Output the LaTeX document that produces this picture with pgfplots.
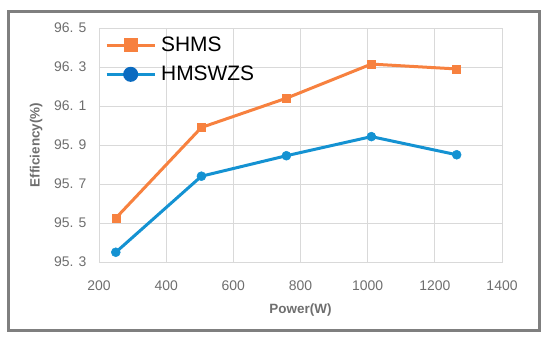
\documentclass[border=0pt]{standalone}
\usepackage{pgfplots}
\pgfplotsset{compat=1.18}
\usepackage{fontspec}
\setmainfont{Liberation Sans}
\definecolor{cOrange}{HTML}{F7813F}
\definecolor{cBlue}{HTML}{1492D2}
\definecolor{cBlueDark}{HTML}{0B6BC0}
\definecolor{cGrid}{HTML}{D9D9D9}
\definecolor{cTick}{HTML}{6E6E6E}
\definecolor{cFrame}{HTML}{7F7F7F}
\begin{document}
\begin{tikzpicture}[x=1bp,y=1bp]
\path[use as bounding box] (-99,-85) rectangle (451,28+234);
\draw[cFrame, line width=3bp] (-90,-68) rectangle (440,234+17);
\begin{axis}[
  at={(0,0)}, anchor=south west,
  scale only axis, width=403bp, height=234bp,
  xmin=200, xmax=1400, ymin=95.3, ymax=96.5,
  xtick={200,400,...,1400},
  xticklabels={200,400,600,800,1000,1200,1400},
  ytick={95.3,95.5,95.7,95.9,96.1,96.3,96.5},
  yticklabels={95. 3,95. 5,95. 7,95. 9,96. 1,96. 3,96. 5},
  grid=major, grid style={cGrid, line width=0.8bp},
  axis line style={cGrid, line width=0.8bp},
  major tick length=0pt,
  tick label style={font=\fontsize{14}{16}\selectfont, text=cTick},
  xticklabel style={yshift=-15bp},
  yticklabel style={xshift=-9bp},
  xlabel={\textbf{Power(W)}},
  ylabel={\textbf{Efficiency(\%)}},
  label style={font=\fontsize{13.5}{15}\selectfont, text=cTick},
  xlabel style={yshift=-7bp},
  ylabel style={yshift=5bp},
  legend style={at={(0,1)}, anchor=north west, draw=none, fill=none,
    font=\fontsize{21}{24}\selectfont, row sep=9bp,
    xshift=3bp, yshift=-5bp},
  legend cell align=left,
  legend image code/.code={\draw[mark repeat=2,mark phase=2,mark options={scale=1.35}] plot coordinates {(0bp,0bp) (24bp,0bp) (48bp,0bp)};},
  legend style={nodes={inner xsep=5bp}},
]
\addplot[cOrange, line width=3bp, mark=square*, mark size=4bp, mark options={solid, line width=0.5bp}]
  coordinates {(250,95.525) (505,95.99) (758,96.14) (1011,96.315) (1265,96.29)};
\addlegendentry{SHMS}
\addplot[cBlue, line width=3bp, mark=*, mark size=4.5bp, mark options={solid, line width=0.5bp},
  legend image code/.code={\draw[cBlue, line width=3bp] (0bp,0bp) -- (48bp,0bp);
    \fill[cBlueDark] (24bp,0bp) circle (6bp);}]
  coordinates {(250,95.35) (505,95.74) (758,95.845) (1011,95.943) (1265,95.85)};
\addlegendentry{HMSWZS}
\end{axis}
\end{tikzpicture}
\end{document}
